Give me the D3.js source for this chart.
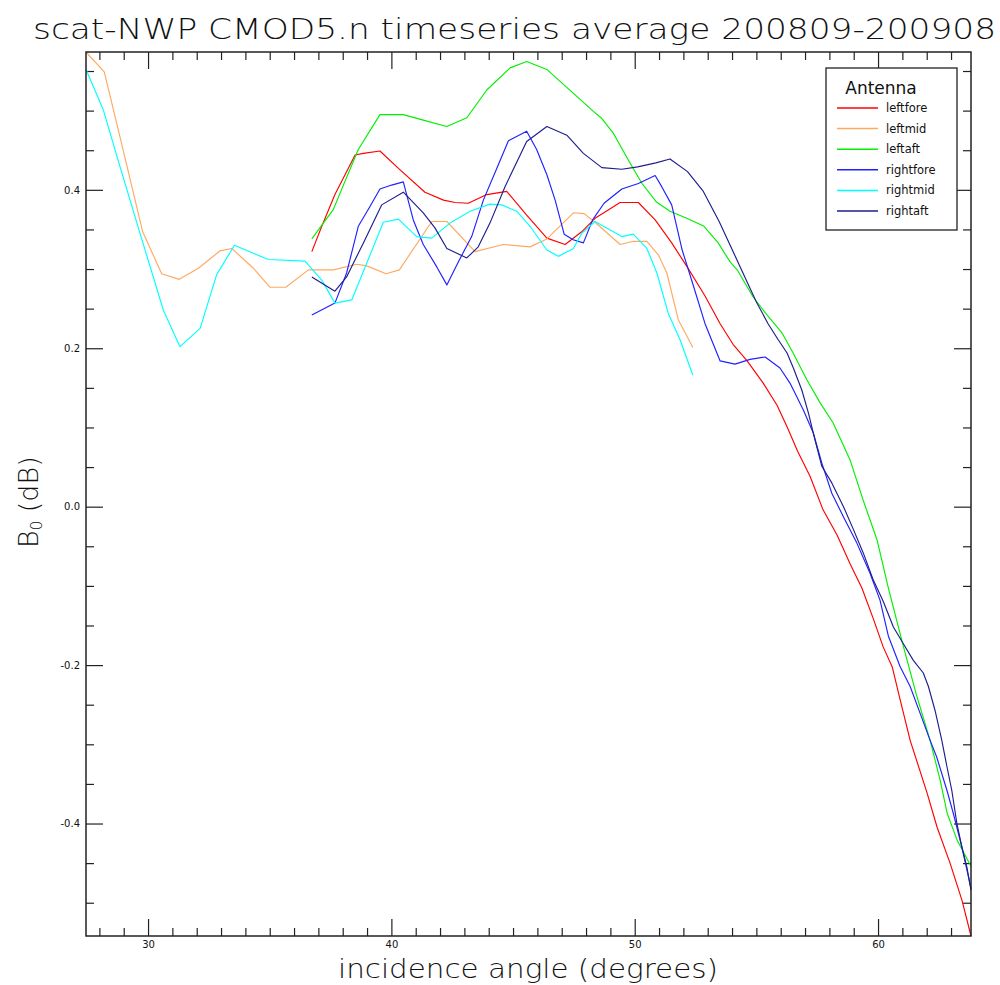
<!DOCTYPE html>
<html>
<head>
<meta charset="utf-8">
<script src="https://cdn.jsdelivr.net/npm/d3@7"></script>
<style>
  html, body { margin: 0; padding: 0; background: #fff; }
  svg { display: block; }
</style>
</head>
<body>
<svg id="chart" width="1000" height="985"></svg>
<script>
// ---- data (incidence angle in degrees, B0 in dB) ----
const seriesNames = ["leftfore", "leftmid", "leftaft", "rightfore", "rightmid", "rightaft"];
const seriesColors = ["#ff0000", "#ffa860", "#00f000", "#2020ff", "#00ffff", "#1e1e8c"];

const leftforeAngle = [36.73,37.14,37.68,38.51,38.85,39.53,40.29,41.38,42.14,42.62,43.16,43.92,44.74,45.56,46.39,47.14,47.82,48.37,49.40,50.15,50.84,51.52,52.15,52.89,53.51,54.04,54.62,55.28,55.85,56.26,56.71,57.21,57.74,58.32,58.85,59.34,59.80,60.21,60.58,60.91,61.32,62.02,62.43,62.96,63.45,63.82];
const leftforeB0 = [0.322,0.354,0.394,0.444,0.446,0.449,0.427,0.397,0.387,0.384,0.383,0.394,0.398,0.368,0.339,0.331,0.347,0.364,0.384,0.384,0.362,0.333,0.303,0.266,0.231,0.205,0.184,0.156,0.128,0.101,0.069,0.038,-0.004,-0.036,-0.072,-0.103,-0.141,-0.177,-0.202,-0.244,-0.295,-0.362,-0.405,-0.450,-0.497,-0.542];

const leftmidAngle = [27.45,28.20,28.97,29.78,30.56,31.28,32.07,32.96,33.44,34.33,35.01,35.66,36.59,37.61,38.58,38.99,39.78,40.33,41.66,42.28,43.44,44.60,45.70,46.39,47.48,47.92,48.37,49.40,49.94,50.50,50.97,51.32,51.79,52.39];
const leftmidB0 = [0.574,0.549,0.451,0.347,0.294,0.287,0.301,0.323,0.326,0.301,0.277,0.277,0.299,0.299,0.306,0.304,0.294,0.299,0.360,0.360,0.322,0.331,0.328,0.338,0.371,0.370,0.359,0.331,0.335,0.335,0.318,0.295,0.236,0.201];

const leftaftAngle = [36.73,37.61,38.64,39.53,40.49,41.31,42.28,43.10,43.92,44.88,45.56,46.39,47.00,47.62,48.30,48.65,49.11,49.73,50.30,50.88,51.45,52.14,52.85,53.43,53.92,54.21,54.86,55.36,56.06,56.51,57.08,57.62,58.15,58.85,59.39,59.96,60.41,61.03,61.60,62.14,62.55,62.84,63.25,63.82];
const leftaftB0 = [0.338,0.375,0.451,0.495,0.495,0.488,0.480,0.491,0.526,0.554,0.562,0.552,0.535,0.518,0.499,0.490,0.472,0.438,0.408,0.385,0.373,0.364,0.354,0.333,0.309,0.299,0.265,0.245,0.219,0.194,0.160,0.131,0.106,0.059,0.008,-0.042,-0.101,-0.175,-0.240,-0.295,-0.345,-0.387,-0.421,-0.454];

const rightforeAngle = [36.73,37.68,38.16,38.64,39.12,39.53,40.01,40.49,40.90,41.31,41.86,42.28,42.75,43.30,43.78,44.33,44.81,45.56,45.97,46.39,46.73,47.10,47.47,47.89,48.27,48.74,49.47,50.15,50.84,51.11,51.52,51.95,52.36,52.89,53.51,54.12,54.74,55.36,55.97,56.38,56.93,57.34,57.69,58.10,58.58,59.13,59.67,60.08,60.43,60.91,61.32,61.73,62.14,62.41,62.83,63.10,63.44,63.82];
const rightforeB0 = [0.242,0.257,0.295,0.354,0.379,0.401,0.406,0.410,0.362,0.331,0.303,0.280,0.309,0.341,0.387,0.427,0.462,0.474,0.451,0.419,0.387,0.344,0.337,0.333,0.362,0.383,0.401,0.408,0.418,0.404,0.381,0.324,0.284,0.231,0.184,0.180,0.186,0.189,0.175,0.156,0.122,0.093,0.055,0.017,-0.013,-0.046,-0.084,-0.118,-0.164,-0.202,-0.227,-0.261,-0.295,-0.316,-0.358,-0.388,-0.429,-0.482];

const rightmidAngle = [27.45,28.16,28.85,29.67,30.63,31.31,32.14,32.82,33.55,34.94,36.45,37.14,37.68,38.37,39.67,40.29,41.04,41.66,42.41,43.23,44.05,44.54,45.15,45.70,46.39,46.86,47.48,47.82,48.37,49.47,49.94,50.50,50.91,51.38,51.86,52.39];
const rightmidB0 = [0.552,0.501,0.429,0.345,0.248,0.202,0.225,0.293,0.330,0.312,0.310,0.286,0.257,0.261,0.359,0.363,0.341,0.339,0.358,0.373,0.382,0.381,0.373,0.354,0.324,0.316,0.326,0.345,0.360,0.341,0.344,0.326,0.295,0.244,0.211,0.166];

const rightaftAngle = [36.73,37.68,38.16,38.85,39.60,40.49,41.31,41.79,42.28,43.10,43.57,44.05,44.67,45.56,46.39,47.21,47.89,48.65,49.47,50.12,50.87,51.45,52.17,52.82,53.47,54.33,54.99,55.48,55.89,56.26,56.52,56.87,57.14,57.41,57.69,58.10,58.58,58.99,59.40,59.81,60.22,60.63,61.04,61.45,61.86,62.07,62.34,62.62,62.83,63.03,63.24,63.44,63.65,63.82];
const rightaftB0 = [0.290,0.272,0.290,0.333,0.381,0.397,0.371,0.352,0.326,0.314,0.328,0.358,0.404,0.461,0.480,0.469,0.446,0.428,0.426,0.429,0.434,0.439,0.423,0.398,0.360,0.303,0.259,0.231,0.211,0.194,0.175,0.147,0.118,0.084,0.051,0.030,0.000,-0.029,-0.059,-0.093,-0.120,-0.152,-0.173,-0.194,-0.210,-0.227,-0.257,-0.295,-0.328,-0.358,-0.400,-0.429,-0.455,-0.484];

const xMajorTicks = [30, 40, 50, 60];
const xMinorStep = 1;
const yMajorTicks = [-0.4, -0.2, 0.0, 0.2, 0.4];
const yMinorStep = 0.05;

const titleText = "scat-NWP CMOD5.n timeseries average 200809-200908";
const xLabelText = "incidence angle (degrees)";
const legendTitle = "Antenna";

// ---- build series ----
const angles = [leftforeAngle, leftmidAngle, leftaftAngle, rightforeAngle, rightmidAngle, rightaftAngle];
const values = [leftforeB0, leftmidB0, leftaftB0, rightforeB0, rightmidB0, rightaftB0];
const series = seriesNames.map((n, i) => ({
  name: n, color: seriesColors[i],
  pts: angles[i].map((a, j) => ({a: a, v: values[i][j]}))
}));

// ---- layout ----
const svg = d3.select("#chart");
const L = 86, R = 971, T = 52, B = 936;
const allPts = series.flatMap(s => s.pts);
const x = d3.scaleLinear().domain(d3.extent(allPts, d => d.a)).range([L, R]);
const y = d3.scaleLinear().domain(d3.extent(allPts, d => d.v)).range([B, T]);

const axisColor = "#222";
const majLen = 17, minLen = 8;
const tickFont = "'DejaVu Sans', sans-serif";

function minorVals(scale, step, majors) {
  const [d0, d1] = scale.domain();
  const out = [];
  for (let k = Math.ceil(d0 / step - 1e-9); k * step <= d1 + 1e-9; k++) {
    const v = +(k * step).toFixed(6);
    if (!majors.some(m => Math.abs(m - v) < 1e-9)) out.push(v);
  }
  return out;
}
const xMinor = minorVals(x, xMinorStep, xMajorTicks);
const yMinor = minorVals(y, yMinorStep, yMajorTicks);

function styleAxis(g) {
  g.select(".domain").remove();
  g.selectAll(".tick line").attr("stroke", axisColor).attr("stroke-width", 1.2);
  g.selectAll(".tick text").attr("fill", "#111").style("font-family", tickFont).style("font-size", "10px");
}

// bottom
svg.append("g").attr("transform", `translate(0,${B})`)
  .call(d3.axisBottom(x).tickValues(xMajorTicks).tickSize(-majLen).tickPadding(5).tickFormat(d3.format("d")))
  .call(styleAxis);
svg.append("g").attr("transform", `translate(0,${B})`)
  .call(d3.axisBottom(x).tickValues(xMinor).tickSize(-minLen).tickFormat(""))
  .call(styleAxis);
// top
svg.append("g").attr("transform", `translate(0,${T})`)
  .call(d3.axisTop(x).tickValues(xMajorTicks).tickSize(-majLen).tickFormat(""))
  .call(styleAxis);
svg.append("g").attr("transform", `translate(0,${T})`)
  .call(d3.axisTop(x).tickValues(xMinor).tickSize(-minLen).tickFormat(""))
  .call(styleAxis);
// left
svg.append("g").attr("transform", `translate(${L},0)`)
  .call(d3.axisLeft(y).tickValues(yMajorTicks).tickSize(-majLen).tickPadding(6).tickFormat(d => d.toFixed(1)))
  .call(styleAxis);
svg.append("g").attr("transform", `translate(${L},0)`)
  .call(d3.axisLeft(y).tickValues(yMinor).tickSize(-minLen).tickFormat(""))
  .call(styleAxis);
// right
svg.append("g").attr("transform", `translate(${R},0)`)
  .call(d3.axisRight(y).tickValues(yMajorTicks).tickSize(-majLen).tickFormat(""))
  .call(styleAxis);
svg.append("g").attr("transform", `translate(${R},0)`)
  .call(d3.axisRight(y).tickValues(yMinor).tickSize(-minLen).tickFormat(""))
  .call(styleAxis);

// lines
const line = d3.line().x(d => x(d.a)).y(d => y(d.v));
svg.append("g").selectAll("path").data(series).join("path")
  .attr("d", s => line(s.pts))
  .attr("fill", "none")
  .attr("stroke", s => s.color)
  .attr("stroke-width", 1.15)
  .attr("stroke-linejoin", "round");

// frame
svg.append("rect").attr("x", L).attr("y", T).attr("width", R - L).attr("height", B - T)
  .attr("fill", "none").attr("stroke", axisColor).attr("stroke-width", 1.5);

// title
const labelFont = "'DejaVu Sans', sans-serif";
svg.append("text").attr("x", 33).attr("y", 39)
  .attr("textLength", 963).attr("lengthAdjust", "spacingAndGlyphs")
  .style("font-family", labelFont).style("font-size", "29px").style("font-weight", 300)
  .attr("fill", "#111").text(titleText);

// x label
svg.append("text").attr("x", 338).attr("y", 978)
  .attr("textLength", 380).attr("lengthAdjust", "spacingAndGlyphs")
  .style("font-family", labelFont).style("font-size", "27px").style("font-weight", 300)
  .attr("fill", "#111").text(xLabelText);

// y label
const yl = svg.append("text").attr("transform", "translate(38,548) rotate(-90)")
  .style("font-family", labelFont).style("font-size", "27px").style("font-weight", 300)
  .attr("fill", "#111");
yl.append("tspan").text("B");
yl.append("tspan").attr("baseline-shift", "-25%").style("font-size", "15px").text("0");
yl.append("tspan").text(" (dB)");

// legend
const lg = svg.append("g");
lg.append("rect").attr("x", 826).attr("y", 68).attr("width", 131).attr("height", 162)
  .attr("fill", "#fff").attr("stroke", "#222").attr("stroke-width", 1.3);
lg.append("text").attr("x", 881).attr("y", 94).attr("text-anchor", "middle")
  .style("font-family", labelFont).style("font-size", "17px").attr("fill", "#111").text(legendTitle);
const rowY = d3.scaleLinear().domain([0, seriesNames.length - 1]).range([108, 211]);
const rows = lg.selectAll("g.row").data(series).join("g").attr("class", "row")
  .attr("transform", (d, i) => `translate(0,${rowY(i)})`);
rows.append("line").attr("x1", 837).attr("x2", 878).attr("y1", 0).attr("y2", 0)
  .attr("stroke", d => d.color).attr("stroke-width", 1.5);
rows.append("text").attr("x", 886).attr("y", 4)
  .style("font-family", labelFont).style("font-size", "11.5px").attr("fill", "#111")
  .text(d => d.name);
</script>
</body>
</html>
